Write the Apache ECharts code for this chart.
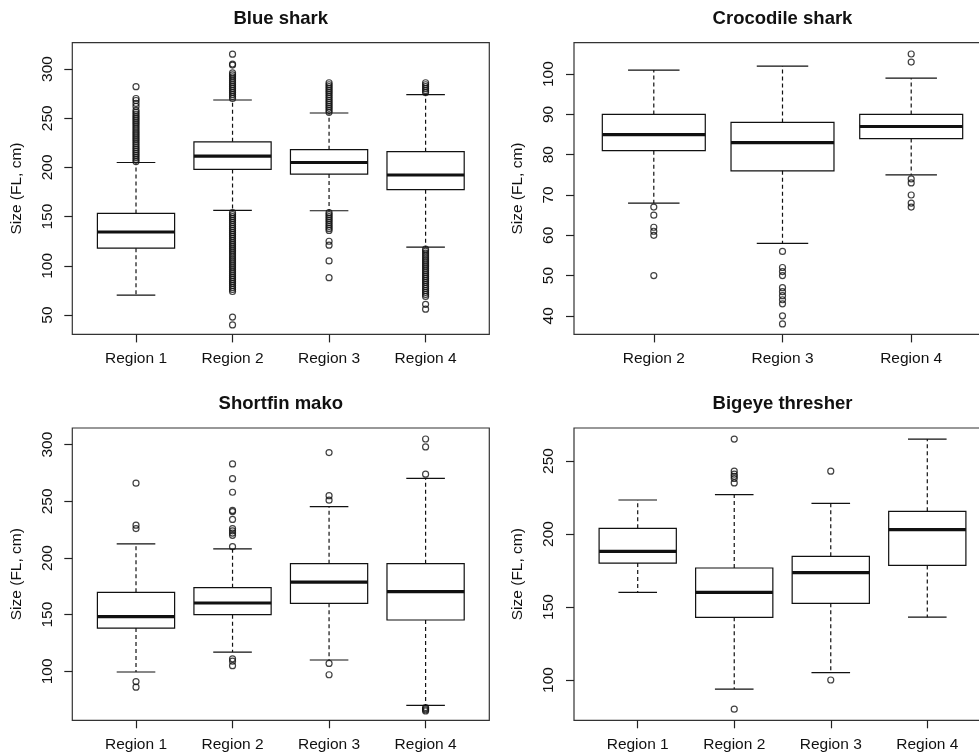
<!DOCTYPE html>
<html><head><meta charset="utf-8">
<script src="https://cdn.jsdelivr.net/npm/echarts@6/dist/echarts.min.js"></script>
<style>html,body{margin:0;padding:0;background:#fff}#c{width:979px;height:756px}</style>
</head><body><div id="c"></div>
<script>
// ---------------- DATA ----------------
const regions4 = ['Region 1', 'Region 2', 'Region 3', 'Region 4'];
const regions3 = ['Region 2', 'Region 3', 'Region 4'];

// stats per region: [lower whisker, Q1, median, Q3, upper whisker]
const blueStats = [
  [70.3, 118, 134.4, 153.3, 205],
  [156.4, 198, 211.5, 226, 268.5],
  [156, 193.3, 205, 218, 255.3],
  [119, 177.4, 192.3, 216, 274]
];
const blueOutliers = [
  [206, 208, 210, 212, 214, 216, 218, 220, 222, 224, 226, 228, 230, 232, 234, 236, 238, 240, 242, 244, 246, 248, 250, 252, 254, 256, 258, 262, 265, 268, 270, 282],
  [270, 272, 274, 276, 278, 280, 282, 284, 286, 288, 290, 292, 294, 296, 304, 305, 315,
   154, 152, 150, 148, 146, 144, 142, 140, 138, 136, 134, 132, 130, 128, 126, 124, 122, 120, 118, 116, 114, 112, 110, 108, 106, 104, 102, 100, 98, 96, 94, 92, 90, 88, 86, 84, 82, 80, 78, 76, 74, 48, 40],
  [256, 258, 260, 262, 264, 266, 268, 270, 272, 274, 276, 278, 280, 282, 284, 286,
   154, 152, 150, 148, 146, 144, 142, 140, 138, 136, 125, 121, 105, 88],
  [276, 278, 280, 282, 284, 286,
   117, 115, 113, 111, 109, 107, 105, 103, 101, 99, 97, 95, 93, 91, 89, 87, 85, 83, 81, 79, 77, 75, 73, 71, 69, 61, 56]
];
const blueYTicks = [50, 100, 150, 200, 250, 300];

const crocStats = [
  [68, 81, 85, 90, 101],
  [58, 76, 83, 88, 102],
  [75, 84, 87, 90, 99]
];
const crocOutliers = [
  [67, 65, 62, 61, 60, 50],
  [56, 52, 51, 50, 47, 46, 45, 44, 43, 40, 38],
  [105, 103, 74, 73, 70, 68, 67]
];
const crocYTicks = [40, 50, 60, 70, 80, 90, 100];

const makoStats = [
  [99.4, 138.2, 148.2, 169.7, 212.4],
  [117, 150, 160.3, 173.8, 208],
  [110, 160, 178.8, 195, 245.3],
  [70, 145.3, 170.3, 195, 270.3]
];
const makoOutliers = [
  [266, 229, 226, 91, 86],
  [283, 270, 258, 242, 241, 234, 226, 224, 222, 220, 210, 111, 109, 105],
  [293, 255, 251, 107, 97],
  [305, 298, 274, 68, 67, 66, 65]
];
const makoYTicks = [100, 150, 200, 250, 300];

const bigeyeStats = [
  [160, 180.1, 188.1, 203.9, 223.3],
  [93.8, 142.9, 160, 176.7, 227],
  [105, 152.5, 173.5, 184.7, 221],
  [143, 178.5, 203, 215.5, 265]
];
const bigeyeOutliers = [
  [],
  [265, 243, 241, 239.5, 238, 235, 80],
  [243, 100],
  []
];
const bigeyeYTicks = [100, 150, 200, 250];

// ---------------- LAYOUT ----------------
const FONT = '"Liberation Sans", Arial, Helvetica, sans-serif';
const INK = '#111';
const panels = [
  {title: 'Blue shark', cats: regions4, stats: blueStats, out: blueOutliers, ticks: blueYTicks,
   yMin: 30.4, yMax: 326.7, grid: {left: 72.3, top: 42.7, width: 417, height: 291.7}, titleY: 18.8},
  {title: 'Crocodile shark', cats: regions3, stats: crocStats, out: crocOutliers, ticks: crocYTicks,
   yMin: 35.4, yMax: 107.8, grid: {left: 574, top: 42.7, width: 417, height: 291.7}, titleY: 18.8},
  {title: 'Shortfin mako', cats: regions4, stats: makoStats, out: makoOutliers, ticks: makoYTicks,
   yMin: 56.8, yMax: 314.7, grid: {left: 72.3, top: 428, width: 417, height: 292.3}, titleY: 403.8},
  {title: 'Bigeye thresher', cats: regions4, stats: bigeyeStats, out: bigeyeOutliers, ticks: bigeyeYTicks,
   yMin: 72.4, yMax: 272.6, grid: {left: 574, top: 428, width: 417, height: 292.3}, titleY: 403.8}
];

function renderBox(params, api) {
  const x = api.value(0);
  const lw = api.value(1), q1 = api.value(2), med = api.value(3), q3 = api.value(4), uw = api.value(5);
  const P = (dx, v) => api.coord([x + dx, v]);
  const line = (a, b, w, dash) => {
    const st = {stroke: INK, lineWidth: w, lineCap: 'butt'};
    if (dash) st.lineDash = dash;
    return {type: 'line', shape: {x1: a[0], y1: a[1], x2: b[0], y2: b[1]}, style: st};
  };
  const tl = P(-0.4, q3), br = P(0.4, q1);
  return {type: 'group', children: [
    line(P(0, q3), P(0, uw), 1.2, [4, 3]),
    line(P(0, q1), P(0, lw), 1.2, [4, 3]),
    line(P(-0.2, uw), P(0.2, uw), 1.2),
    line(P(-0.2, lw), P(0.2, lw), 1.2),
    {type: 'rect', shape: {x: tl[0], y: tl[1], width: br[0] - tl[0], height: br[1] - tl[1]},
     style: {fill: 'rgba(0,0,0,0)', stroke: INK, lineWidth: 1.2}},
    line(P(-0.4, med), P(0.4, med), 3.2)
  ]};
}

const grids = [], xAxes = [], yAxes = [], series = [], graphics = [];
panels.forEach((p, i) => {
  const n = p.cats.length;
  grids.push(Object.assign({show: true, borderColor: '#333', borderWidth: 1.2, backgroundColor: 'transparent',
    outerBoundsMode: 'none', containLabel: false}, p.grid));
  const xTicks = p.cats.map((c, k) => k + 1);
  xAxes.push({
    type: 'value', gridIndex: i, min: 0.5 - 0.04 * n, max: n + 0.5 + 0.04 * n,
    axisLine: {show: false}, splitLine: {show: false},
    axisTick: {show: true, customValues: xTicks, length: 8, lineStyle: {color: '#222', width: 1.2}},
    axisLabel: {customValues: xTicks, formatter: v => p.cats[Math.round(v) - 1] || '',
      fontSize: 15.5, fontFamily: FONT, color: '#111', margin: 16}
  });
  yAxes.push({
    type: 'value', gridIndex: i, min: p.yMin, max: p.yMax,
    axisLine: {show: false}, splitLine: {show: false},
    axisTick: {show: true, customValues: p.ticks, length: 8, lineStyle: {color: '#222', width: 1.2}},
    axisLabel: {customValues: p.ticks, rotate: 90, fontSize: 15.5, fontFamily: FONT, color: '#111', margin: 17,
      formatter: v => String(Math.round(v))},
    name: 'Size (FL, cm)', nameLocation: 'middle', nameRotate: 90, nameGap: 48,
    nameTextStyle: {fontSize: 15.5, fontFamily: FONT, color: '#111'}
  });
  series.push({
    type: 'custom', xAxisIndex: i, yAxisIndex: i, renderItem: renderBox,
    encode: {x: 0, y: [1, 2, 3, 4, 5]},
    data: p.stats.map((s, k) => [k + 1].concat(s)), z: 2
  });
  const pts = [];
  p.out.forEach((arr, k) => arr.forEach(v => pts.push([k + 1, v])));
  series.push({
    type: 'scatter', xAxisIndex: i, yAxisIndex: i, data: pts, symbol: 'circle', symbolSize: 6,
    itemStyle: {color: 'rgba(0,0,0,0)', borderColor: INK, borderWidth: 1.2}, z: 3, silent: true
  });
  graphics.push({
    type: 'text', x: p.grid.left + p.grid.width / 2, y: p.titleY,
    style: {text: p.title, align: 'center', verticalAlign: 'middle',
      font: 'bold 18.5px ' + FONT, fill: '#111'}
  });
});

const chart = echarts.init(document.getElementById('c'), null, {renderer: 'canvas'});
chart.setOption({
  animation: false, backgroundColor: '#fff',
  grid: grids, xAxis: xAxes, yAxis: yAxes, series: series, graphic: graphics
});
</script></body></html>
